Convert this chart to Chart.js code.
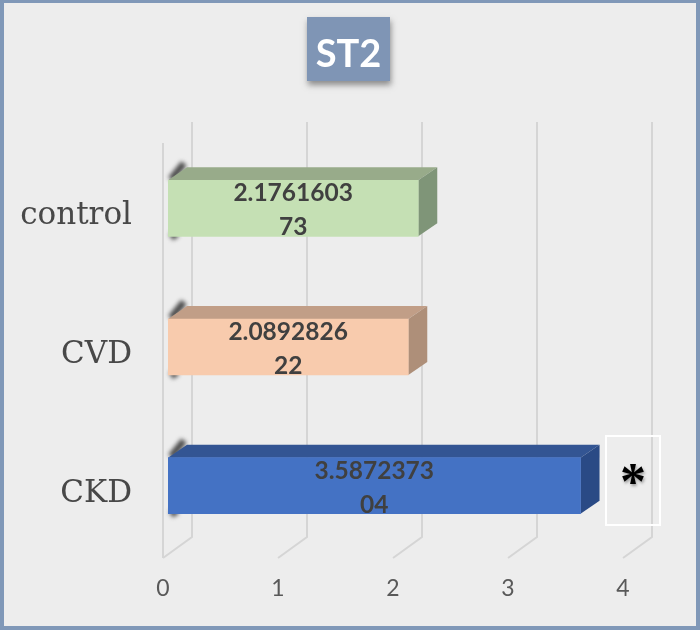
<!DOCTYPE html>
<html>
<head>
<meta charset="utf-8">
<title>ST2</title>
<script src="https://cdn.jsdelivr.net/npm/chart.js@4"></script>
<style>
    html, body { margin: 0; padding: 0; background: #ededed; }
    #wrap { position: relative; width: 700px; height: 630px; overflow: hidden; }
    #frame { position: absolute; inset: 0; border: solid #8098b8; border-width: 3px 4px 4px 4px; box-sizing: border-box; pointer-events: none; }
    #chartTitle {
        position: absolute; left: 307px; top: 17px; width: 83px; height: 64px;
        background: #7f95b5; color: #fff; box-shadow: 1px 4px 6px rgba(60, 60, 60, 0.55);
        font: bold 38px Lato, sans-serif; line-height: 70px; text-align: center;
    }
    #starBox {
        position: absolute; left: 605px; top: 435px; width: 52px; height: 87px;
        border: 2px solid #fff; color: #000; text-align: center;
        font: bold 52px "Liberation Serif", serif; line-height: 90px;
        text-shadow: 1px 2px 3px rgba(0, 0, 0, 0.35);
    }
</style>
</head>
<body>
<div id="wrap">
    <canvas id="barChart" width="700" height="630"></canvas>
    <div id="chartTitle">ST2</div>
    <div id="starBox">*</div>
    <div id="frame"></div>
</div>
<script>
const categories = ['control', 'CVD', 'CKD'];
const st2Values = [2.176160373, 2.089282622, 3.587237304];
const frontColors = ['#c5e0b4', '#f8cbad', '#4472c4'];
const topColors = ['#98ab8a', '#c19e87', '#335593'];
const sideColors = ['#7f9578', '#ae8f79', '#2a4a85'];

// how far the back of the bars sits from the front, in pixels
const depthX = 19;
const depthY = 13;

function fillShape(ctx, color, points) {
    ctx.fillStyle = color;
    ctx.beginPath();
    points.forEach((p, i) => (i === 0 ? ctx.moveTo(p[0], p[1]) : ctx.lineTo(p[0], p[1])));
    ctx.closePath();
    ctx.fill();
}

// Back wall and floor lines, then the top and side faces of each bar
const box3d = {
    id: 'box3d',
    beforeDatasetsDraw(chart) {
        const ctx = chart.ctx;
        const xScale = chart.scales.x;

        ctx.save();
        ctx.strokeStyle = '#d5d5d5';
        ctx.lineWidth = 2;
        xScale.ticks.forEach(tick => {
            const x = xScale.getPixelForValue(tick.value);
            ctx.beginPath();
            ctx.moveTo(x + 24, 122);
            ctx.lineTo(x + 24, 537);
            ctx.lineTo(x - 5, 558);
            ctx.stroke();
        });
        ctx.beginPath();
        ctx.moveTo(xScale.left - 5, 143);
        ctx.lineTo(xScale.left - 5, 558);
        ctx.stroke();
        ctx.restore();

        chart.getDatasetMeta(0).data.forEach((bar, i) => {
            const left = bar.base;
            const right = bar.x;
            const top = bar.y - bar.height / 2;
            const bottom = bar.y + bar.height / 2;

            // dark smudges on the left end, behind the bar
            ctx.save();
            ctx.strokeStyle = '#4a4a4a';
            ctx.lineWidth = 7;
            ctx.filter = 'blur(2px)';
            ctx.beginPath();
            ctx.moveTo(left + 3, top - 1);
            ctx.lineTo(left + 16, top - 17);
            ctx.moveTo(left + 3, bottom + 1);
            ctx.lineTo(left + 9, bottom - 3);
            ctx.stroke();
            ctx.restore();

            fillShape(ctx, topColors[i], [[left, top], [left + depthX, top - depthY], [right + depthX, top - depthY], [right, top]]);
            fillShape(ctx, sideColors[i], [[right, top], [right + depthX, top - depthY], [right + depthX, bottom - depthY], [right, bottom]]);
        });
    },
    afterDatasetsDraw(chart) {
        const ctx = chart.ctx;
        ctx.save();
        ctx.font = 'bold 24.5px Lato, sans-serif';
        ctx.fillStyle = '#404040';
        ctx.textAlign = 'center';
        ctx.textBaseline = 'middle';
        chart.getDatasetMeta(0).data.forEach((bar, i) => {
            // the label wraps after nine characters in the original
            const text = String(st2Values[i]);
            const middle = (bar.base + bar.x) / 2;
            ctx.fillText(text.slice(0, 9), middle, bar.y - 15);
            ctx.fillText(text.slice(9), middle, bar.y + 19);
        });
        ctx.restore();
    }
};

const ctx = document.getElementById('barChart').getContext('2d');
const barChart = new Chart(ctx, {
    type: 'bar',
    data: {
        labels: categories,
        datasets: [{
            data: st2Values,
            backgroundColor: frontColors,
            borderWidth: 0,
            barThickness: 56
        }]
    },
    options: {
        indexAxis: 'y',
        responsive: false,
        animation: false,
        layout: { padding: { top: 139, right: 72, bottom: 0, left: 0 } },
        plugins: {
            legend: { display: false },
            tooltip: { enabled: false },
            title: { display: false }
        },
        scales: {
            x: {
                min: 0,
                max: 4,
                afterFit: scale => { scale.height = 75; },
                grid: { display: false },
                border: { display: false },
                ticks: {
                    stepSize: 1,
                    labelOffset: -5,
                    padding: 12,
                    color: '#595959',
                    font: { family: 'Lato, sans-serif', size: 23 }
                }
            },
            y: {
                afterFit: scale => { scale.width = 168; },
                grid: { display: false },
                border: { display: false },
                ticks: {
                    padding: 28,
                    labelOffset: 8,
                    color: '#484848',
                    font: { family: '"DejaVu Serif", serif', size: 31 }
                }
            }
        }
    },
    plugins: [box3d]
});
</script>
</body>
</html>
